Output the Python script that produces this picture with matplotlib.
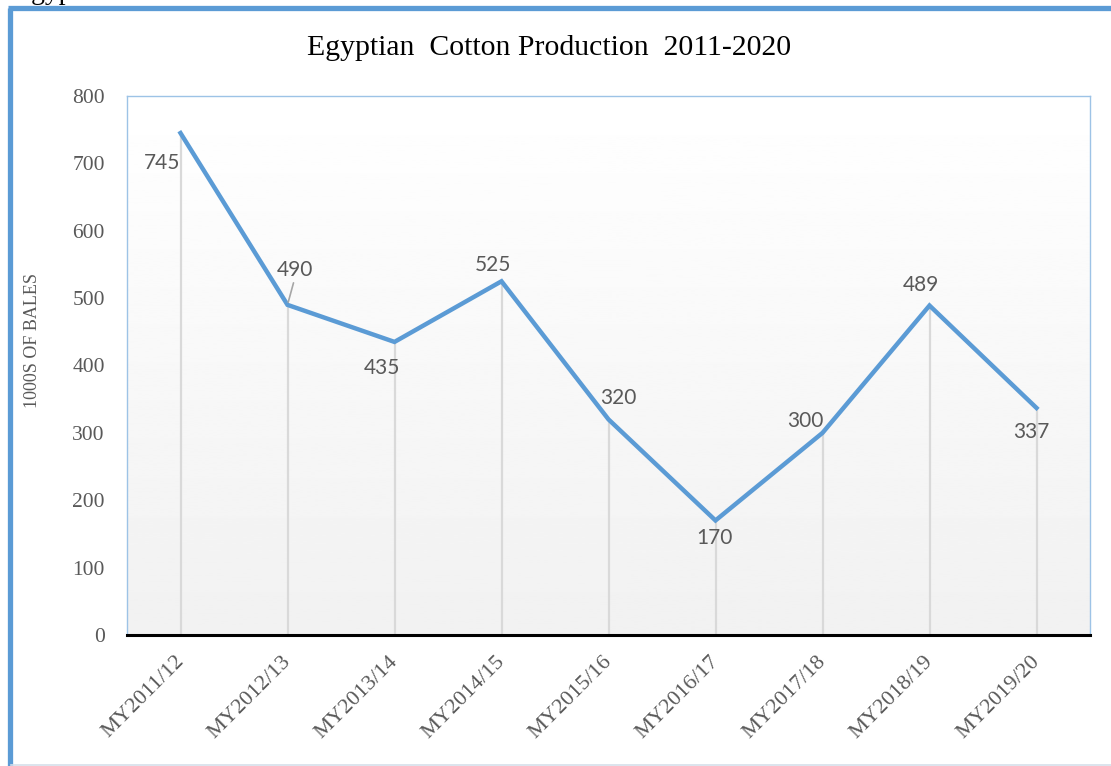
import numpy as np
import matplotlib
matplotlib.use("Agg")
import matplotlib.pyplot as plt
from matplotlib.lines import Line2D
from matplotlib.transforms import ScaledTranslation

# marketing years and production (1000s of bales)
years = ["MY2011/12", "MY2012/13", "MY2013/14", "MY2014/15", "MY2015/16",
         "MY2016/17", "MY2017/18", "MY2018/19", "MY2019/20"]
bales = [745, 490, 435, 525, 320, 170, 300, 489, 337]
yticks = [0, 100, 200, 300, 400, 500, 600, 700, 800]

# label offsets in pixels (dx, dy) relative to each point
offs = [(-18, -30), (7, 35), (-13, -26), (-9, 16), (10, 21),
        (-1, -18), (-17, 12), (-9, 21), (-5, -24)]

blue = "#5b9bd5"
grey_txt = "#595959"
serif = ["Liberation Serif", "DejaVu Serif"]

fig = plt.figure(figsize=(11.11, 7.66), dpi=100)
ax = fig.add_axes([127/1111, 1-635/766, (1090-127)/1111, (635-96)/766])

x = np.arange(len(years))

# background gradient white -> light grey
grad = np.linspace(1.0, 0.945, 256).reshape(-1, 1)
ax.imshow(grad, cmap="gray", vmin=0, vmax=1, aspect="auto",
          extent=(-0.5, 8.5, 0, 800), origin="upper", zorder=0)

ax.vlines(x, 0, bales, color="#d9d9d9", lw=1.6, zorder=1)
ax.plot(x, bales, color=blue, lw=3.2, solid_joinstyle="miter", zorder=3)

for i, (v, (dx, dy)) in enumerate(zip(bales, offs)):
    ax.annotate(str(v), (i, v), xytext=(dx, dy), textcoords="offset pixels",
                ha="center", va="center", fontsize=15, color=grey_txt,
                family=["Lato", "DejaVu Sans"], zorder=4)
# leader line for the 490 label
ax.annotate("", (1, 490), xytext=(6, 22), textcoords="offset pixels",
            arrowprops=dict(arrowstyle="-", color="#a6a6a6", lw=1.2,
                            shrinkA=0, shrinkB=2))

ax.set_xlim(-0.5, 8.5)
ax.set_ylim(0, 800)
ax.set_yticks(yticks)
ax.set_yticklabels([str(t) for t in yticks], family=serif, fontsize=15.5,
                   color=grey_txt)
ax.set_xticks(x)
ax.set_xticklabels(years, rotation=45, ha="right", rotation_mode="anchor",
                   family=serif, fontsize=16, color=grey_txt)
ax.tick_params(axis="both", length=0)
ax.tick_params(axis="y", pad=16)
ax.tick_params(axis="x", pad=10)
shift = ScaledTranslation(-6/100, -3/100, fig.dpi_scale_trans)
for lab in ax.get_xticklabels():
    lab.set_transform(lab.get_transform() + shift)

for s in ["top", "left", "right"]:
    ax.spines[s].set_color("#9dc3e6")
    ax.spines[s].set_linewidth(1.0)
ax.spines["bottom"].set_color("black")
ax.spines["bottom"].set_linewidth(2.2)
ax.spines["bottom"].set_zorder(5)

ax.set_ylabel("1000S OF BALES", family=serif, fontsize=13, color=grey_txt)
ax.yaxis.set_label_coords(-86/963, 0.547)

fig.text(549/1111, 1-48/766, "Egyptian  Cotton Production  2011-2020",
         ha="center", va="center", family=serif, fontsize=21.4, color="black")

# outer frame
fig.add_artist(Line2D([9.5/1111, 9.5/1111], [0, 1-7.5/766], color=blue,
                      lw=3.8, transform=fig.transFigure, solid_capstyle="butt"))
fig.add_artist(Line2D([7.5/1111, 1], [1-7.5/766, 1-7.5/766], color=blue,
                      lw=3.8, transform=fig.transFigure, solid_capstyle="butt"))
fig.add_artist(Line2D([11/1111, 1], [1.5/766, 1.5/766], color="#d5dfea",
                      lw=1.2, transform=fig.transFigure))

# heading text running off the top edge
fig.text(14/1111, 1+1/766, "Egyptian", ha="left", va="baseline",
         family=serif, fontsize=20, color="black")

fig.savefig("out.png", dpi=100)
